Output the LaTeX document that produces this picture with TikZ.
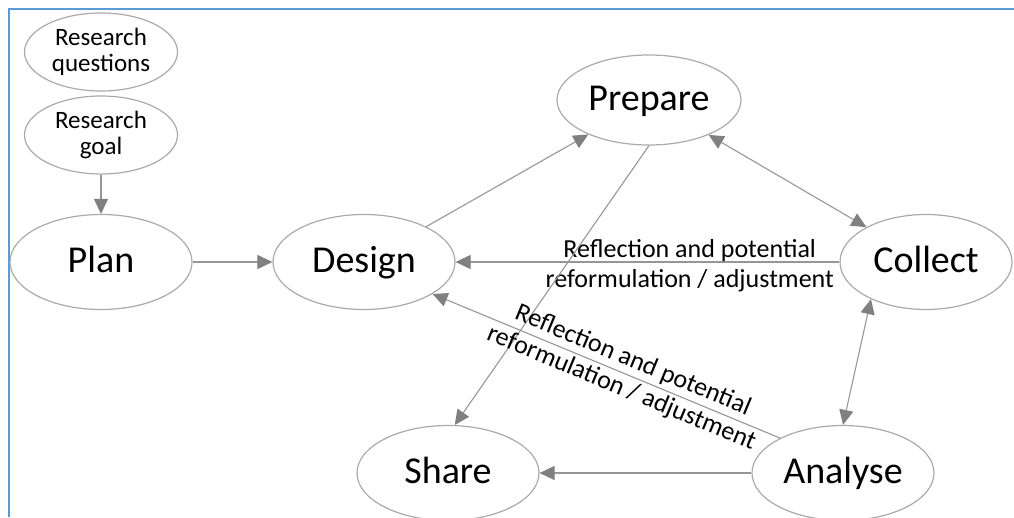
\documentclass[tikz,border=0pt]{standalone}
\usepackage{fontspec}
\setmainfont{Carlito}
\usepackage{tikz}
\usetikzlibrary{shapes.geometric,arrows.meta}

\definecolor{frameblue}{RGB}{91,155,213}
\definecolor{edgegray}{RGB}{150,150,150}
\definecolor{tipgray}{RGB}{128,128,128}
\definecolor{rimgray}{RGB}{170,170,170}

\begin{document}
\begin{tikzpicture}[x=1pt,y=1pt,
  stage/.style={ellipse,draw=rimgray,line width=1.2pt,inner sep=0pt,text height=26pt,text depth=5pt,
    minimum width=182pt,minimum height=95pt,font=\fontsize{38}{42}\selectfont},
  small/.style={ellipse,draw=rimgray,line width=1.2pt,inner sep=0pt,align=center,
    minimum width=153pt,minimum height=78pt,font=\fontsize{25}{26}\selectfont},
  arr/.style={draw=edgegray,line width=1.1pt,-{Triangle[length=15pt,width=14pt,color=tipgray]}},
  dbl/.style={arr,{Triangle[length=15pt,width=14pt,color=tipgray]}-{Triangle[length=15pt,width=14pt,color=tipgray]}},
  note/.style={align=center,font=\fontsize{26}{30}\selectfont}]
  \useasboundingbox (0,0) rectangle (1014,517);
  \draw[frameblue,line width=2.2pt] (9,0) -- (9,508) -- (1014,508);

  \node[small] (rq) at (101,465) {Research\\questions};
  \node[small] (rg) at (101,382) {Research\\goal};
  \node[stage] (plan) at (101,255) {Plan};
  \node[stage] (design) at (364,255) {Design};
  \node[stage,minimum width=184pt,minimum height=90pt] (prepare) at (649,417) {Prepare};
  \node[stage,minimum width=172pt] (collect) at (926,255) {Collect};
  \node[stage] (analyse) at (843,44) {Analyse};
  \node[stage] (share) at (448,44) {Share};

  \draw[arr] (rg.south) to (plan.north);
  \draw[arr] (plan) to (design);
  \draw[arr] (design) to (prepare);
  \draw[dbl] (prepare) to (collect);
  \draw[arr] (collect) to node[note,pos=0.39,yshift=-4pt] {Reflection and potential\\reformulation / adjustment} (design);
  \draw[arr] (prepare.south) to (share.82);
  \draw[dbl] (collect.214) to (analyse.north);
  %\draw[arr] (analyse) to (design);
  \draw[arr] (analyse.151) to node[note,sloped,pos=0.44] {Reflection and potential\\reformulation / adjustment} (design.335);
  \draw[arr] (analyse) to (share);
\end{tikzpicture}
\end{document}
